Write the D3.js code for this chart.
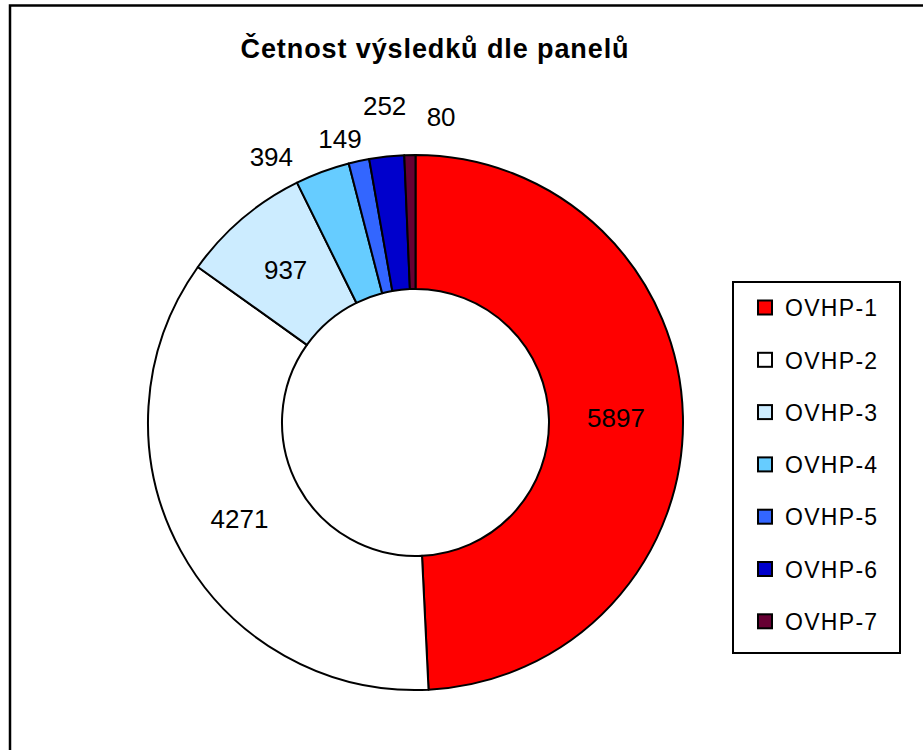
<!DOCTYPE html>
<html>
<head>
<meta charset="utf-8">
<script src="https://cdn.jsdelivr.net/npm/d3@7"></script>
<style>
  body { margin: 0; background: #fff; }
  svg { display: block; font-family: Arial, "Liberation Sans", sans-serif; }
</style>
</head>
<body>
<div id="chart"></div>
<script>
  // data
  var panels = ['OVHP-1', 'OVHP-2', 'OVHP-3', 'OVHP-4', 'OVHP-5', 'OVHP-6', 'OVHP-7'];
  var counts = [5897, 4271, 937, 394, 149, 252, 80];
  var colors = ['#ff0000', '#ffffff', '#ccecff', '#66ccff', '#3366ff', '#0000cc', '#660033'];
  var title = 'Četnost výsledků dle panelů';

  // label placement: inside the ring, or moved outside with a nudge
  var labelOutside = [false, false, false, true, true, true, true];
  var labelNudge = [[0, 0], [0, 0], [0, 0], [-38, 20], [-11, 14], [2, -14], [32, -1]];

  var W = 923, H = 750;
  var cX = 415.5, cY = 422.5;
  var rOuter = 267.5, rInner = 133.5;

  var svg = d3.select('#chart')
    .append('svg')
    .attr('width', W)
    .attr('height', H);

  // outer frame (only top and left edges are in view)
  svg.append('rect')
    .attr('x', 10)
    .attr('y', 5.5)
    .attr('width', 1200)
    .attr('height', 1200)
    .attr('fill', 'none')
    .attr('stroke', '#000')
    .attr('stroke-width', 2.5);

  svg.append('text')
    .attr('x', 435)
    .attr('y', 58)
    .attr('text-anchor', 'middle')
    .attr('font-size', 27)
    .attr('font-weight', 'bold')
    .attr('letter-spacing', 0.9)
    .text(title);

  var pie = d3.pie().sort(null).value(function(d) { return d; });
  var arcs = pie(counts);

  var arc = d3.arc().innerRadius(rInner).outerRadius(rOuter);
  var labelArcOut = d3.arc().innerRadius(305).outerRadius(305);

  var g = svg.append('g')
    .attr('transform', 'translate(' + cX + ',' + cY + ')');

  g.selectAll('path.slice')
    .data(arcs)
    .enter()
    .append('path')
    .attr('class', 'slice')
    .attr('d', arc)
    .attr('fill', function(d, i) { return colors[i]; })
    .attr('stroke', '#000')
    .attr('stroke-width', 2)
    .attr('stroke-linejoin', 'round');

  g.selectAll('text.lbl')
    .data(arcs)
    .enter()
    .append('text')
    .attr('class', 'lbl')
    .attr('transform', function(d, i) {
      var c = labelOutside[i] ? labelArcOut.centroid(d) : arc.centroid(d);
      return 'translate(' + (c[0] + labelNudge[i][0]) + ',' + (c[1] + labelNudge[i][1]) + ')';
    })
    .attr('text-anchor', 'middle')
    .attr('dy', '0.36em')
    .attr('font-size', 26)
    .attr('fill', '#000')
    .text(function(d) { return d.data; });

  // legend
  var legX = 733, legY = 282, legW = 167, legH = 371;
  var rowH = 52.3;

  var legend = svg.append('g');
  legend.append('rect')
    .attr('x', legX)
    .attr('y', legY)
    .attr('width', legW)
    .attr('height', legH)
    .attr('fill', '#fff')
    .attr('stroke', '#000')
    .attr('stroke-width', 2);

  var rows = legend.selectAll('g.row')
    .data(panels)
    .enter()
    .append('g')
    .attr('class', 'row')
    .attr('transform', function(d, i) {
      return 'translate(' + legX + ',' + (legY + 26 + i * rowH) + ')';
    });

  rows.append('rect')
    .attr('x', 25)
    .attr('y', -7.5)
    .attr('width', 14)
    .attr('height', 14)
    .attr('fill', function(d, i) { return colors[i]; })
    .attr('stroke', '#000')
    .attr('stroke-width', 2);

  rows.append('text')
    .attr('x', 52)
    .attr('dy', '0.36em')
    .attr('font-size', 23)
    .attr('letter-spacing', 1.3)
    .text(function(d) { return d; });
</script>
</body>
</html>
